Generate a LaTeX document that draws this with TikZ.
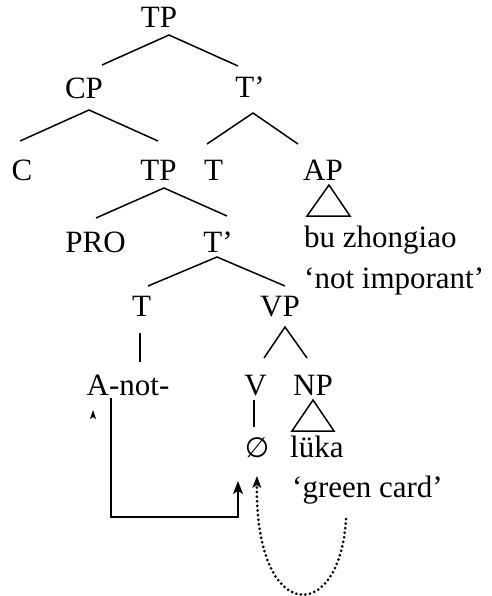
\documentclass[tikz,border=0pt]{standalone}
\usepackage{fontspec}
\setmainfont{Liberation Serif}
\newfontfamily\symbolfont{DejaVu Sans}
\usetikzlibrary{arrows.meta}
\begin{document}
\begin{tikzpicture}[x=1pt, y=-1pt,
  lbl/.style={inner sep=0pt, anchor=base, font=\fontsize{31}{37}\selectfont},
  lblw/.style={lbl, anchor=base west},
  branch/.style={line width=1.5pt, line join=miter},
  move/.style={line width=2pt, -{Stealth[length=13pt, width=10pt, inset=3pt]}},
  lower/.style={line width=3pt, line cap=round, dash pattern=on 0pt off 4.6pt,
    -{Stealth[length=12pt, width=9pt, inset=3pt, line cap=butt, line width=0pt]}}]
\useasboundingbox (0,0) rectangle (491,596);

% category labels
\node[lbl] (tp1) at (159,28) {TP};
\node[lbl] (cp)  at (84,99)  {CP};
\node[lbl] (tb1) at (250,98) {T’};
\node[lbl] (c)   at (22,180) {C};
\node[lbl] (tp2) at (158.5,180) {TP};
\node[lbl] (t1)  at (213.5,180) {T};
\node[lbl] (ap)  at (323,180) {AP};
\node[lbl] (pro) at (95.5,252) {PRO};
\node[lbl] (tb2) at (218,252) {T’};
\node[lbl] (t2)  at (141.5,316) {T};
\node[lbl] (vp)  at (280,316) {VP};
\node[lbl] (anot) at (128,395) {A-not-};
\node[lbl] (v)   at (255.5,395) {V};
\node[lbl] (np)  at (313,395) {NP};
\node[lbl, font=\fontsize{28}{33}\symbolfont] (empty) at (257,457) {∅};

% glosses
\node[lblw] (apw)  at (304,247) {bu zhongiao};
\node[lblw] (apg)  at (304,288) {‘not imporant’};
\node[lblw] (npw)  at (290,457) {lüka};
\node[lblw] (npg)  at (292,497) {‘green card’};

% branch points
\coordinate (j1) at (169,35);
\coordinate (j2) at (89,110);
\coordinate (j3) at (253,113);
\coordinate (j4) at (164,188);
\coordinate (j5) at (217,257);
\coordinate (j6) at (285,327);

\draw[branch] (102,65) -- (j1) -- (238,66);
\draw[branch] (20,141) -- (j2) -- (158,141);
\draw[branch] (207,144) -- (j3) -- (298,144);
\draw[branch] (96,218) -- (j4) -- (227,216);
\draw[branch] (148,286) -- (j5) -- (285,286);
\draw[branch] (264,358) -- (j6) -- (307,358);
\draw[branch] (140,333) -- (140,362);
\draw[branch] (254,400) -- (254,427);

% triangles
\draw[branch] (329,185) -- (350,216) -- (307,216) -- cycle;
\draw[branch] (313,400) -- (334,431) -- (292,431) -- cycle;

% movement arrows
\coordinate (m0) at (111,398);
\coordinate (m1) at (238,481);
\draw[move] (m0) -- (111,517) -- (238,517) -- (m1);
\fill (90,419) -- (93,410) -- (96,419) -- (93,417) -- cycle;

\coordinate (d0) at (346,519);
\coordinate (d1) at (257,476);
\draw[lower] (d0) .. controls (340,625) and (255,625) .. (d1);
\end{tikzpicture}
\end{document}
